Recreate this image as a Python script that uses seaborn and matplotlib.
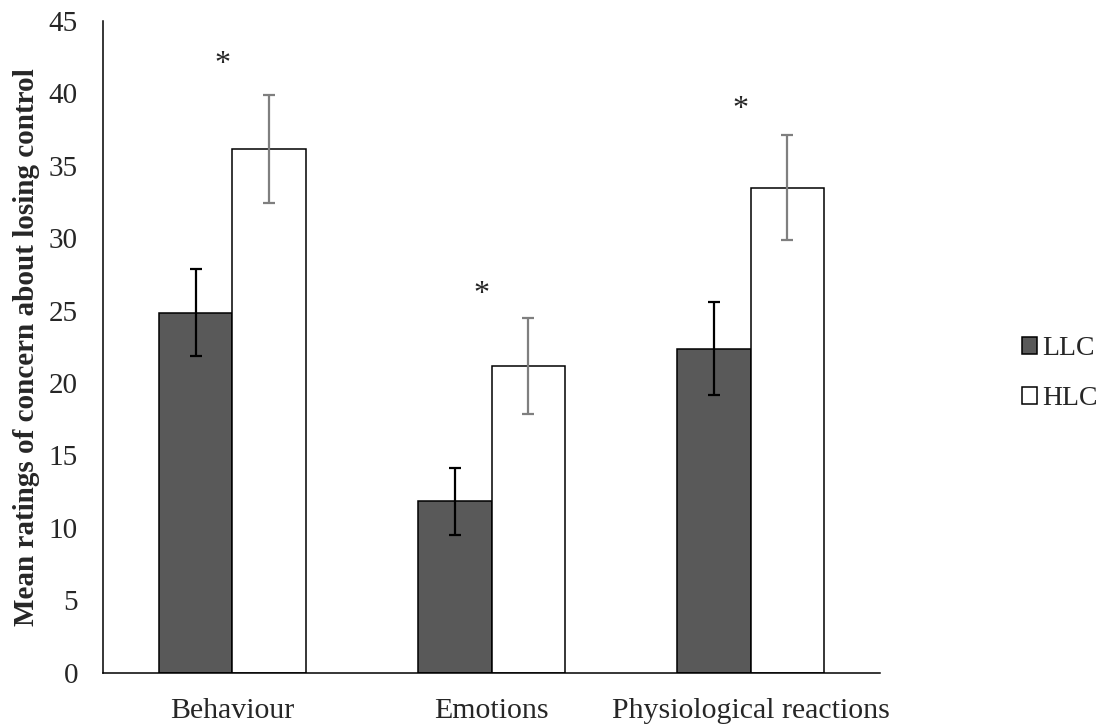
import matplotlib
matplotlib.use("Agg")
import matplotlib.pyplot as plt
import seaborn as sns
import pandas as pd
import numpy as np

categories = ["Behaviour", "Emotions", "Physiological reactions"]
groups = ["LLC", "HLC"]
llc_means = [24.85, 11.82, 22.37]
hlc_means = [36.16, 21.15, 33.48]
llc_err = [3.0, 2.33, 3.2]
hlc_err = [3.75, 3.32, 3.63]
star_y = [42.0, 26.1, 38.9]
y_ticks = [0, 5, 10, 15, 20, 25, 30, 35, 40, 45]

df = pd.DataFrame({
    "category": categories * 2,
    "group": ["LLC"] * 3 + ["HLC"] * 3,
    "value": llc_means + hlc_means,
})

sns.set_style("white")
plt.rcParams["font.family"] = ["Liberation Serif", "DejaVu Serif"]

fig = plt.figure(figsize=(11.07, 7.26), dpi=100)
ax = fig.add_axes([0.093, 0.0734, 0.702, 0.898])

sns.barplot(data=df, x="category", y="value", hue="group", order=categories,
            hue_order=groups, palette={"LLC": "#595959", "HLC": "#ffffff"},
            edgecolor="black", linewidth=1.1, errorbar=None, width=0.57,
            gap=0, ax=ax)

# error bars at bar centres
bars = [p for p in ax.patches if p.get_height() > 0][:6]
errs = llc_err + hlc_err
ecolors = ["black"] * 3 + ["#7f7f7f"] * 3
for p, e, c in zip(bars, errs, ecolors):
    xc = p.get_x() + p.get_width() / 2
    ax.errorbar(xc, p.get_height(), yerr=e, color=c, capsize=4.5,
                elinewidth=1.6, capthick=1.6, zorder=5)

for i, sy in enumerate(star_y):
    ax.text(i - 0.04, sy, "*", ha="center", va="center", fontsize=23)

ax.set_ylim(0, 45)
ax.set_xlim(-0.5, 2.5)
ax.set_yticks(y_ticks)
ax.tick_params(axis="y", labelsize=21, length=0, pad=18)
ax.tick_params(axis="x", labelsize=21.5, length=0, pad=18)
ax.set_xlabel("")
ax.set_ylabel("Mean ratings of concern about losing control", fontsize=21,
              fontweight="bold", labelpad=6)
for s in ["top", "right"]:
    ax.spines[s].set_visible(False)
for s in ["left", "bottom"]:
    ax.spines[s].set_color("black")
    ax.spines[s].set_linewidth(1.1)

handles, labels = ax.get_legend_handles_labels()
ax.legend(handles, labels, loc="center left", bbox_to_anchor=(0.923, 0.485),
          bbox_transform=fig.transFigure, frameon=False, fontsize=20,
          handlelength=0.55, handleheight=0.55, handletextpad=0.2,
          labelspacing=0.9, borderaxespad=0, borderpad=0)

fig.savefig("out.png", dpi=100)
